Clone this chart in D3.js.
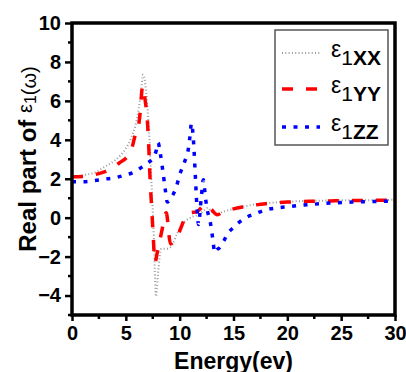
<!DOCTYPE html>
<html>
<head>
<meta charset="utf-8">
<script src="https://cdn.jsdelivr.net/npm/d3@7"></script>
<style>
  body { margin: 0; background: #fff; }
  text { font-family: Arial, "Liberation Sans", sans-serif; }
</style>
</head>
<body>
<div id="chart"></div>
<script>
// energy (eV) and real part of eps1 for each polarisation
var xxEnergy = [0, 1, 2, 3, 4, 4.5, 5, 5.5, 5.9, 6.2, 6.4, 6.6, 6.8, 7.0, 7.2, 7.4, 7.6, 7.8, 8.0, 8.3, 8.7, 9.2, 9.7, 10.2, 10.7, 11.2, 11.7, 12.2, 12.6, 13.0, 13.5, 14, 15, 16, 17, 18, 20, 22, 24, 26, 28, 30];
var xxValues = [2.1, 2.18, 2.3, 2.6, 2.95, 3.2, 3.55, 4.1, 4.75, 5.6, 6.4, 7.35, 6.9, 5.7, 4.0, 1.6, -1.0, -4.05, -2.8, -1.6, -1.6, -1.5, -0.9, -0.35, -0.1, 0.05, 0.15, 0.35, 0.5, 0.3, 0.2, 0.3, 0.45, 0.58, 0.68, 0.74, 0.82, 0.86, 0.88, 0.9, 0.9, 0.92];

var yyEnergy = [0, 1, 2, 3, 4, 4.5, 5, 5.5, 5.9, 6.2, 6.35, 6.55, 6.8, 7.0, 7.1, 7.25, 7.4, 7.55, 7.7, 7.95, 8.3, 8.75, 9.15, 9.5, 9.9, 10.4, 11, 11.6, 12.1, 12.5, 12.9, 13.5, 14, 15, 16, 17, 18, 20, 22, 24, 26, 28, 30];
var yyValues = [2.1, 2.12, 2.2, 2.35, 2.65, 2.85, 3.05, 3.45, 4.3, 4.8, 5.5, 6.75, 6.0, 5.0, 4.0, 2.0, 0.5, -1.0, -2.3, -1.7, -0.8, 0.25, -1.35, -1.1, -0.8, -0.15, 0.25, 0.3, 0.55, 0.65, 0.45, 0.15, 0.28, 0.45, 0.56, 0.65, 0.72, 0.8, 0.84, 0.86, 0.88, 0.89, 0.9];

var zzEnergy = [0, 1, 2, 3, 4, 5, 5.6, 6.5, 7.0, 7.5, 7.8, 8.0, 8.2, 8.45, 8.65, 8.85, 9.3, 9.7, 10, 10.3, 10.6, 10.8, 10.95, 11.1, 11.3, 11.45, 11.6, 11.75, 12.0, 12.2, 12.4, 12.6, 12.8, 12.95, 13.1, 13.25, 13.45, 13.7, 14.1, 14.4, 15, 16, 17, 18, 19, 20, 22, 24, 26, 28, 30];
var zzValues = [1.85, 1.85, 1.9, 1.98, 2.05, 2.2, 2.3, 2.6, 2.8, 3.05, 3.4, 3.85, 3.3, 2.35, 1.5, 0.8, 1.1, 1.6, 2.2, 2.65, 3.1, 3.5, 4.15, 4.85, 3.8, 2.2, 0.6, -0.35, 1.0, 1.95, 1.0, 0.3, -0.1, -0.6, -1.2, -1.8, -1.65, -1.55, -1.2, -0.87, -0.5, -0.05, 0.2, 0.4, 0.5, 0.56, 0.67, 0.75, 0.8, 0.83, 0.85];

var xTicks = [0, 5, 10, 15, 20, 25, 30];
var yTicks = [-4, -2, 0, 2, 4, 6, 8, 10];
var legendLabels = ['XX', 'YY', 'ZZ'];

var app = app || {};

app.run = function() {
  // Dimensions
  var width = 406,
      height = 372,
      pl = 72,
      pr = 395,
      pt = 23,
      pb = 315;

  var x = d3.scaleLinear().domain([0, 30]).range([pl, pr]);
  var y = d3.scaleLinear().domain([-5, 10]).range([pb, pt]);

  var svg = d3.select("#chart")
    .append("svg")
      .attr("width", width)
      .attr("height", height);

  svg.append("clipPath")
      .attr("id", "plot-clip")
    .append("rect")
      .attr("x", pl)
      .attr("y", pt)
      .attr("width", pr - pl)
      .attr("height", pb - pt);

  // curves
  var series = [
    { e: xxEnergy, v: xxValues, color: "#9a9a9a", w: 2, dash: "1,2.3" },
    { e: yyEnergy, v: yyValues, color: "#ff0000", w: 3.5, dash: "11,13" },
    { e: zzEnergy, v: zzValues, color: "#0000ff", w: 3.5, dash: "4,7.5" }
  ];

  var line = d3.line()
    .x(function(d) { return x(d[0]); })
    .y(function(d) { return y(d[1]); })
    .curve(d3.curveMonotoneX);

  var plot = svg.append("g").attr("clip-path", "url(#plot-clip)");

  series.forEach(function(s) {
    plot.append("path")
      .datum(d3.zip(s.e, s.v))
      .attr("fill", "none")
      .attr("stroke", s.color)
      .attr("stroke-width", s.w)
      .attr("stroke-dasharray", s.dash)
      .attr("d", line);
  });

  // axes
  var xAxis = d3.axisBottom(x).tickValues(xTicks).tickSize(6).tickPadding(5).tickFormat(d3.format("d"));
  var yAxis = d3.axisLeft(y).tickValues(yTicks).tickSize(7).tickPadding(4).tickFormat(d3.format("d"));

  var gx = svg.append("g").attr("transform", "translate(0," + pb + ")").call(xAxis);
  var gy = svg.append("g").attr("transform", "translate(" + pl + ",0)").call(yAxis);

  // minor ticks
  var xMinor = d3.range(2.5, 30, 5);
  var yMinor = d3.range(-5, 10, 2);
  gx.selectAll(".minor").data(xMinor).enter().append("line")
    .attr("class", "minor")
    .attr("x1", function(d) { return x(d); })
    .attr("x2", function(d) { return x(d); })
    .attr("y1", 0).attr("y2", 4)
    .attr("stroke", "#000").attr("stroke-width", 2.5);
  gy.selectAll(".minor").data(yMinor).enter().append("line")
    .attr("class", "minor")
    .attr("y1", function(d) { return y(d); })
    .attr("y2", function(d) { return y(d); })
    .attr("x1", 0).attr("x2", -4)
    .attr("stroke", "#000").attr("stroke-width", 2.5);

  [gx, gy].forEach(function(g) {
    g.select(".domain").remove();
    g.selectAll(".tick line").attr("stroke", "#000").attr("stroke-width", 2.5);
    g.selectAll(".tick text")
      .attr("fill", "#000")
      .style("font-size", "20px")
      .style("font-weight", "bold");
  });

  // frame
  svg.append("rect")
    .attr("x", pl)
    .attr("y", pt)
    .attr("width", pr - pl)
    .attr("height", pb - pt)
    .attr("fill", "none")
    .attr("stroke", "#000")
    .attr("stroke-width", 3.5);

  // axis titles
  svg.append("text")
    .attr("x", (pl + pr) / 2)
    .attr("y", 369)
    .attr("text-anchor", "middle")
    .style("font-size", "23px")
    .style("font-weight", "bold")
    .text("Energy(ev)");

  var yt = svg.append("text")
    .attr("transform", "translate(36,159)rotate(-90)")
    .attr("text-anchor", "middle")
    .style("font-size", "24px")
    .style("font-weight", "bold");
  yt.append("tspan").text("Real part of ");
  yt.append("tspan").style("font-weight", "normal").style("font-size", "20px").attr("dy", -4).text("ε");
  yt.append("tspan").style("font-weight", "normal").style("font-size", "16px").attr("dy", 4).text("1");
  yt.append("tspan").style("font-weight", "normal").style("font-size", "20px").text("(ω)");

  // legend
  var legend = svg.append("g");
  legend.append("rect")
    .attr("x", 275).attr("y", 30)
    .attr("width", 113).attr("height", 115)
    .attr("fill", "#fff")
    .attr("stroke", "#555")
    .attr("stroke-width", 1.5);

  var rowY = [53, 89, 127];
  series.forEach(function(s, i) {
    legend.append("line")
      .attr("x1", 282).attr("x2", 320)
      .attr("y1", rowY[i]).attr("y2", rowY[i])
      .attr("stroke", s.color)
      .attr("stroke-width", s.w)
      .attr("stroke-dasharray", s.dash);
    var t = legend.append("text")
      .attr("x", 331)
      .attr("y", rowY[i] + 12)
      .style("font-size", "21px");
    t.append("tspan").style("font-size", "23px").attr("dy", -8).text("ε");
    t.append("tspan").attr("dy", 8).text("1");
    t.append("tspan").style("font-weight", "bold").text(legendLabels[i]);
  });
};

app.run();
</script>
</body>
</html>
